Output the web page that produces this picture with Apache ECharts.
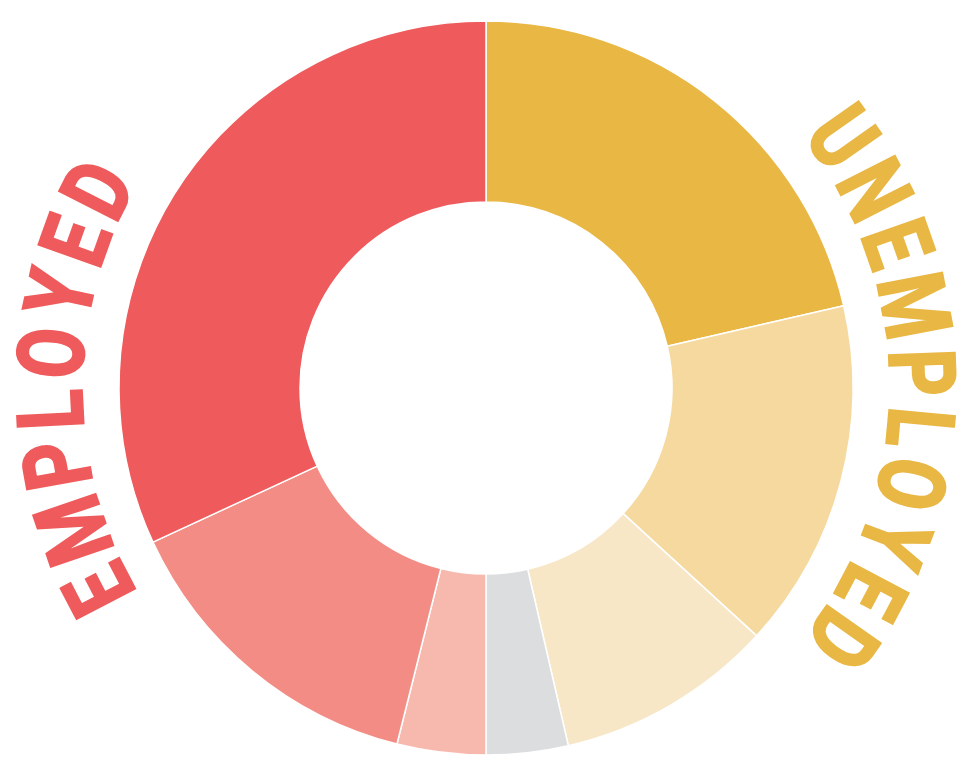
<!DOCTYPE html>
<html>
<head>
<meta charset="utf-8">
<title>Employment donut</title>
<script src="https://cdn.jsdelivr.net/npm/echarts/dist/echarts.min.js"></script>
<style>
  html, body { margin: 0; padding: 0; background: #ffffff; }
  #chart { width: 976px; height: 768px; }
</style>
</head>
<body>
<div id="chart"></div>
<script>
// Slices, clockwise from 12 o'clock
const sliceNames  = ['Unemployed, long term', 'Unemployed, short term', 'Unemployed, new entrants',
                     'Other', 'Employed, marginal', 'Employed, part time', 'Employed, full time'];
const sliceValues = [21.4, 15.4, 9.6, 3.6, 3.9, 14.2, 31.9];
const sliceColors = ['#E9B744', '#F5D99F', '#F8E7C7', '#DCDDDE', '#F7B9AE', '#F38C84', '#EF5B5C'];

// Curved group labels: text, colour, centre angle (degrees clockwise from top)
const arcLabels      = ['EMPLOYED', 'UNEMPLOYED'];
const arcLabelColors = ['#EF5B5C', '#E9B744'];
const arcLabelAngles = [270, 90];

// Layout
const CX = 486, CY = 388;
const INNER_R = 186, OUTER_R = 367;
const TEXT_R = 427;
const FONT = 'bold 92px Roboto';
const LETTER_SCALE = 0.79;
const TRACKING = 11;

const chart = echarts.init(document.getElementById('chart'), null, { renderer: 'canvas' });

const measureCtx = document.createElement('canvas').getContext('2d');
measureCtx.font = FONT;

// Place each letter of a word along a circle, tops facing outward
function arcText(word, color, centerDeg) {
  const chars = word.split('');
  const widths = chars.map(c => measureCtx.measureText(c).width * LETTER_SCALE);
  const total = widths.reduce((a, b) => a + b, 0) + TRACKING * (chars.length - 1);
  let pos = -total / 2;
  const els = [];
  chars.forEach((c, i) => {
    const mid = pos + widths[i] / 2;
    pos += widths[i] + TRACKING;
    const deg = centerDeg + (mid / TEXT_R) * 180 / Math.PI;
    const rad = deg * Math.PI / 180;
    els.push({
      type: 'text',
      x: CX + TEXT_R * Math.sin(rad),
      y: CY - TEXT_R * Math.cos(rad),
      rotation: -rad,
      scaleX: LETTER_SCALE,
      silent: true,
      style: {
        text: c,
        font: FONT,
        fill: color,
        stroke: color,
        lineWidth: 2.5,
        lineJoin: 'round',
        textAlign: 'center',
        textVerticalAlign: 'middle'
      }
    });
  });
  return els;
}

const graphics = [];
arcLabels.forEach((w, i) => graphics.push(...arcText(w, arcLabelColors[i], arcLabelAngles[i])));

chart.setOption({
  backgroundColor: '#ffffff',
  animation: false,
  series: [{
    type: 'pie',
    center: [CX, CY],
    radius: [INNER_R, OUTER_R],
    startAngle: 90,
    clockwise: true,
    silent: true,
    label: { show: false },
    labelLine: { show: false },
    emphasis: { disabled: true },
    itemStyle: { borderColor: '#ffffff', borderWidth: 1.5 },
    data: sliceValues.map((v, i) => ({
      name: sliceNames[i],
      value: v,
      itemStyle: { color: sliceColors[i] }
    }))
  }],
  graphic: graphics
});
</script>
</body>
</html>
